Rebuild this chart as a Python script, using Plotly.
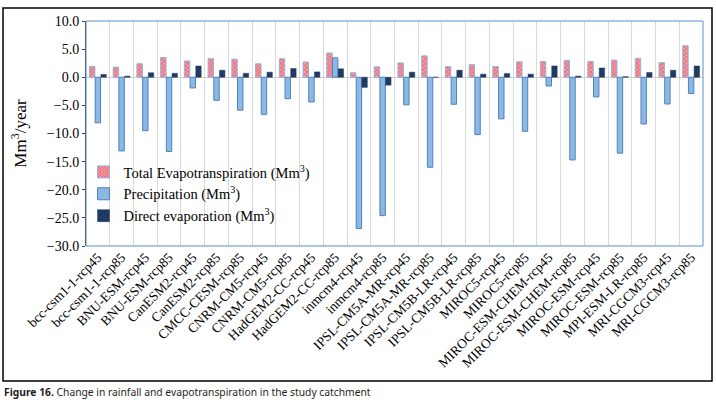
import plotly.graph_objects as go

# GCM scenarios on the x axis
models = [
    "bcc-csm1-1-rcp45", "bcc-csm1-1-rcp85", "BNU-ESM-rcp45", "BNU-ESM-rcp85",
    "CanESM2-rcp45", "CanESM2-rcp85", "CMCC-CESM-rcp85", "CNRM-CM5-rcp45",
    "CNRM-CM5-rcp85", "HadGEM2-CC-rcp45", "HadGEM2-CC-rcp85", "inmcm4-rcp45",
    "inmcm4-rcp85", "IPSL-CM5A-MR-rcp45", "IPSL-CM5A-MR-rcp85",
    "IPSL-CM5B-LR-rcp45", "IPSL-CM5B-LR-rcp85", "MIROC5-rcp45", "MIROC5-rcp85",
    "MIROC-ESM-CHEM-rcp45", "MIROC-ESM-CHEM-rcp85", "MIROC-ESM-rcp45",
    "MIROC-ESM-rcp85", "MPI-ESM-LR-rcp85", "MRI-CGCM3-rcp45", "MRI-CGCM3-rcp85",
]

# values (Mm3/year)
total_et = [1.9, 1.8, 2.4, 3.5, 2.9, 3.3, 3.2, 2.4, 3.3, 2.7, 4.3, 0.8, 1.85,
            2.55, 3.8, 1.9, 2.25, 1.9, 2.75, 2.8, 3.0, 2.8, 3.05, 3.35, 2.6, 5.6]
precip = [-8.1, -13.1, -9.5, -13.2, -1.9, -4.1, -5.85, -6.6, -3.8, -4.4, 3.45,
          -26.9, -24.6, -4.9, -16.0, -4.8, -10.2, -7.4, -9.6, -1.55, -14.7,
          -3.5, -13.5, -8.3, -4.75, -2.9]
direct_evap = [0.5, 0.2, 0.8, 0.7, 2.0, 1.25, 0.7, 0.9, 1.55, 0.95, 1.5, -1.8,
               -1.4, 0.9, 0.0, 1.25, 0.55, 0.65, 0.55, 2.0, 0.2, 1.65, 0.1,
               0.85, 1.25, 2.0]

serif = "Liberation Serif"

fig = go.Figure()
fig.add_trace(go.Bar(
    x=models, y=total_et, name="Total Evapotranspiration (Mm<sup>3</sup>)",
    marker=dict(color="#f9a9ad", line=dict(color="#8db3e2", width=1),
                pattern=dict(shape="x", fgcolor="#e5323d", size=3, solidity=0.6)),
))
fig.add_trace(go.Bar(
    x=models, y=precip, name="Precipitation (Mm<sup>3</sup>)",
    marker=dict(color="#8cb8e4", line=dict(color="#4f81bd", width=1)),
))
fig.add_trace(go.Bar(
    x=models, y=direct_evap, name="Direct evaporation (Mm<sup>3</sup>)",
    marker=dict(color="#1f3b63", line=dict(color="#1f3b63", width=0.5)),
))

fig.update_layout(
    width=716, height=402,
    margin=dict(l=86, r=13, t=21, b=156),
    paper_bgcolor="white", plot_bgcolor="white",
    barmode="group", bargap=0.28, bargroupgap=0.05,
    font=dict(family=serif, size=13, color="black"),
    showlegend=True,
    legend=dict(x=-0.004, y=0.40, xanchor="left", yanchor="top",
                bgcolor="rgba(0,0,0,0)", font=dict(family=serif, size=14.5),
                tracegroupgap=0, itemwidth=30),
    xaxis=dict(type="category", tickson="boundaries", showgrid=True,
               gridcolor="#d9d9d9", gridwidth=1, ticks="", tickangle=-45,
               tickfont=dict(family=serif, size=13.5), showline=False,
               range=[-0.5, len(models) - 0.5]),
    yaxis=dict(range=[-30, 10], dtick=5, tickformat=".1f", showgrid=False,
               zeroline=True, zerolinecolor="#d0d0d0", zerolinewidth=1,
               ticks="outside", ticklen=3, tickcolor="#404040",
               showline=True, linecolor="#404040", linewidth=1,
               tickfont=dict(family=serif, size=14),
               title=dict(text="Mm<sup>3</sup>/year", font=dict(family=serif, size=17),
                          standoff=15)),
)

# blue plot frame (top, right, bottom)
fig.add_shape(type="rect", xref="paper", yref="paper", x0=0, x1=1, y0=0, y1=1,
              line=dict(color="#5b8fd0", width=1), layer="above")
# outer black frame around the whole chart
fig.add_shape(type="rect", xref="paper", yref="paper",
              x0=-0.1345, x1=1.0146, y0=-0.6, y1=1.058,
              line=dict(color="black", width=1.5))

fig.add_annotation(
    xref="paper", yref="paper", x=-0.136, y=-0.65, xanchor="left", yanchor="middle",
    showarrow=False,
    text="<b>Figure 16.</b> Change in rainfall and evapotranspiration in the study catchment",
    font=dict(family="Noto Sans", size=10.3, color="#231f20"),
)

# page has a default 8px body margin; drop it so the figure fills the window
fig.write_html("out.html", config={"displayModeBar": False},
               post_script="document.body.style.margin='0';")
